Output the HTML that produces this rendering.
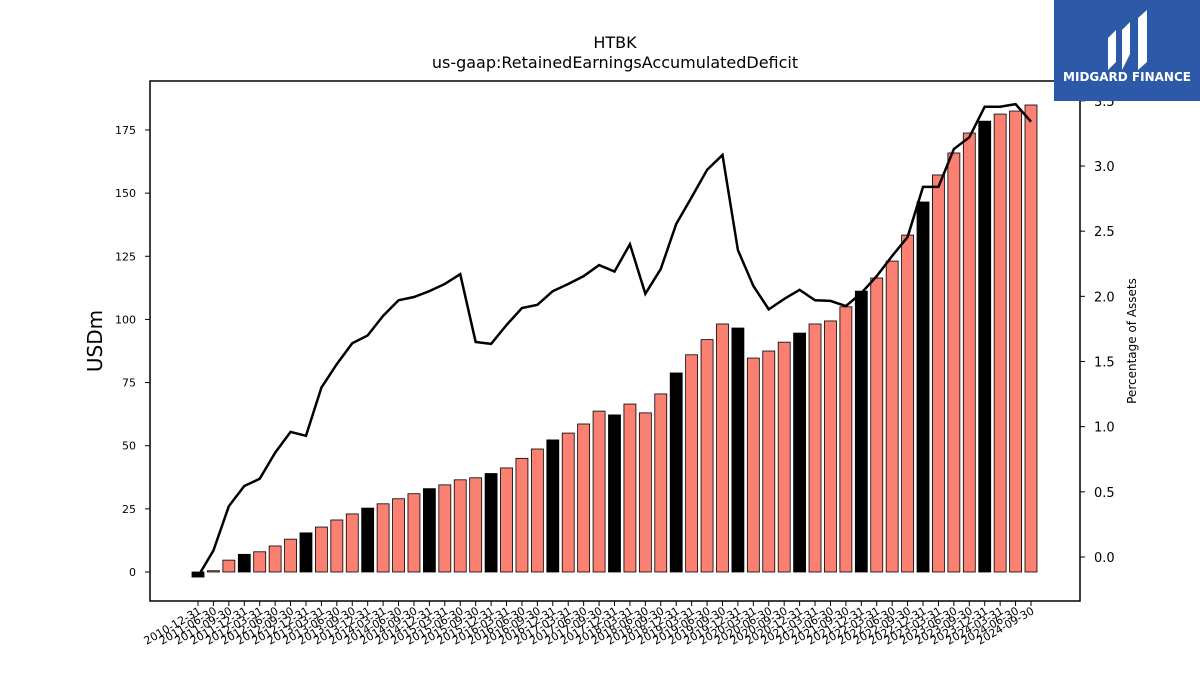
<!DOCTYPE html>
<html><head><meta charset="utf-8"><style>
body{margin:0;background:#fff;}
svg text{font-family:"DejaVu Sans","Liberation Sans",sans-serif;}
</style></head><body>
<svg id="chart" width="1200" height="675" xmlns="http://www.w3.org/2000/svg">
<text x="615" y="48" font-size="16" text-anchor="middle">HTBK</text>
<text x="615" y="68" font-size="16" text-anchor="middle">us-gaap:RetainedEarningsAccumulatedDeficit</text>
<g id="bars"></g>
<g id="xaxis"></g>
<g id="yaxis"></g>
<g id="y2axis"></g>
<path id="line" fill="none" stroke="#000" stroke-width="2.5"/>
<rect x="150" y="81" width="930" height="520" fill="none" stroke="#000" stroke-width="1.5"/>
<text transform="translate(102,341) rotate(-90)" font-size="20" text-anchor="middle">USDm</text>
<text transform="translate(1136,341) rotate(-90)" font-size="12" text-anchor="middle">Percentage of Assets</text>
<g>
<rect x="1054" y="0" width="146" height="101" fill="#2d5aa8"/>
<path d="M1108 70 L1108 38 L1116 30 L1116 62 Z M1122 70 L1122 30 L1130 22 L1130 54 Z M1138 70 L1138 18 L1147 10 L1147 62 Z" fill="#fff"/>
<text x="1127" y="81" font-size="12" font-weight="bold" fill="#fff" text-anchor="middle">MIDGARD FINANCE</text>
</g>
</svg>
<script>
const dates=["2010-12-31","2011-06-30","2011-09-30","2011-12-31","2012-03-31","2012-06-30","2012-09-30","2012-12-31","2013-03-31","2013-06-30","2013-09-30","2013-12-31","2014-03-31","2014-06-30","2014-09-30","2014-12-31","2015-03-31","2015-06-30","2015-09-30","2015-12-31","2016-03-31","2016-06-30","2016-09-30","2016-12-31","2017-03-31","2017-06-30","2017-09-30","2017-12-31","2018-03-31","2018-06-30","2018-09-30","2018-12-31","2019-03-31","2019-06-30","2019-09-30","2019-12-31","2020-03-31","2020-06-30","2020-09-30","2020-12-31","2021-03-31","2021-06-30","2021-09-30","2021-12-31","2022-03-31","2022-06-30","2022-09-30","2022-12-31","2023-03-31","2023-06-30","2023-09-30","2023-12-31","2024-03-31","2024-06-30","2024-09-30"];
const retained=[-2,0.5,4.7,7,8,10.3,13,15.5,17.8,20.6,23,25.3,27,29,31,33,34.5,36.5,37.3,39,41.2,45,48.7,52.3,55,58.6,63.7,62.2,66.5,63,70.5,78.8,86,92,98.2,96.6,84.7,87.5,91,94.6,98.2,99.4,105,111.2,116.4,123.1,133.4,146.5,157.2,165.9,173.8,178.5,181.3,182.5,184.9];
const pctAssets=[-0.15,0.05,0.39,0.545,0.6,0.8,0.96,0.93,1.3,1.48,1.64,1.7,1.85,1.97,1.995,2.04,2.095,2.17,1.65,1.635,1.78,1.91,1.935,2.04,2.095,2.155,2.24,2.19,2.4,2.02,2.21,2.555,2.76,2.97,3.085,2.355,2.08,1.9,1.98,2.05,1.97,1.965,1.925,2.025,2.155,2.31,2.455,2.84,2.84,3.13,3.22,3.455,3.455,3.475,3.34];
const leftTicks=[0,25,50,75,100,125,150,175];
const rightTicks=[0.0,0.5,1.0,1.5,2.0,2.5,3.0,3.5];
const NS="http://www.w3.org/2000/svg";
const x=i=>198+i*(1031-198)/(dates.length-1);
const y=v=>572-v*(572-130)/175;
const y2=v=>557-v*(557-166)/3;
function mk(t,a,p){const e=document.createElementNS(NS,t);for(const k in a)e.setAttribute(k,a[k]);p.appendChild(e);return e;}
const bars=document.getElementById('bars'),xa=document.getElementById('xaxis'),ya=document.getElementById('yaxis'),y2a=document.getElementById('y2axis');
retained.forEach((v,i)=>{
 const q4=dates[i].endsWith('12-31');
 const top=Math.min(y(v),y(0)),h=Math.abs(y(v)-y(0));
 const r=mk('rect',{x:x(i)-6,y:top,width:12,height:Math.max(h,0.8),fill:q4?'#000':'#fa8072',stroke:'#000','stroke-width':0.8},bars);
 
 
 mk('line',{x1:x(i),x2:x(i),y1:601,y2:606,stroke:'#000'},xa);
 const t=mk('text',{transform:`translate(${x(i)+4},${613}) rotate(-30)`,'font-size':11,'text-anchor':'end'},xa);
 
 
 t.textContent=dates[i];
});
leftTicks.forEach(v=>{
 mk('line',{x1:145,x2:150,y1:y(v),y2:y(v),stroke:'#000'},ya);
 const t=mk('text',{x:136,y:y(v)+4,'font-size':11,'text-anchor':'end'},ya);
 
 
 t.textContent=v;
});
rightTicks.forEach(v=>{
 mk('line',{x1:1080,x2:1085,y1:y2(v),y2:y2(v),stroke:'#000'},y2a);
 const t=mk('text',{x:1094,y:y2(v)+5,'font-size':13},y2a);
 
 
 t.textContent=v.toFixed(1);
});
document.getElementById('line').setAttribute('d',pctAssets.map((v,i)=>(i?'L':'M')+x(i)+' '+y2(v)).join(' '));
</script>
</body></html>
